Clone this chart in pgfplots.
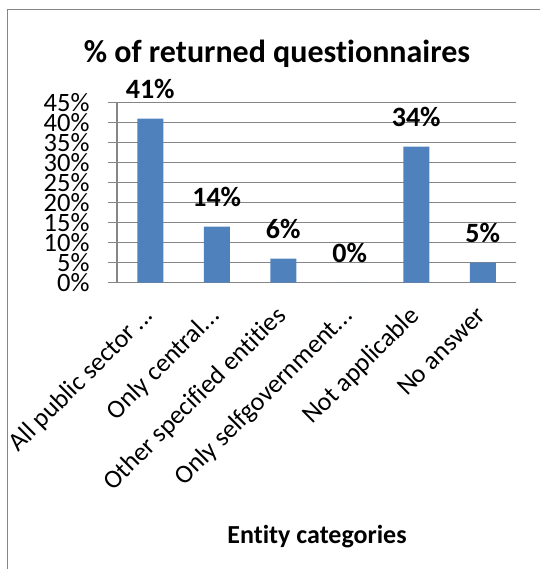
\documentclass[border=0pt]{standalone}
\usepackage{fontspec}
\setmainfont{Carlito}[Ligatures={NoCommon,NoRequired,NoContextual}]
\usepackage{pgfplots}
\pgfplotsset{compat=1.18}
\definecolor{barblue}{HTML}{4F81BD}
\definecolor{linegray}{HTML}{868686}
\begin{document}
\begin{tikzpicture}[x=1pt,y=1pt]
\useasboundingbox (0,0) rectangle (540,569);
% chart frame (left and top edge only are visible)
\draw[linegray, line width=1.5pt] (7.5,0) -- (7.5,559.5) -- (540,559.5);
\node[font=\bfseries\fontsize{32}{38}\selectfont, anchor=base] at (277,506) {\% of returned questionnaires};
\node[font=\bfseries\fontsize{26}{31}\selectfont, anchor=base] at (317,25) {Entity categories};
\begin{axis}[
    at={(117pt,286.3pt)}, anchor=south west,
    scale only axis, width=399pt, height=180pt,
    xmin=-0.5, xmax=5.5, ymin=0, ymax=45,
    axis x line*=bottom, axis y line*=left,
    axis line style={linegray, line width=1.2pt},
    ytick={0,5,...,45},
    yticklabel={\pgfmathprintnumber{\tick}\%},
    /pgf/number format/assume math mode=true,
    ymajorgrids, grid style={linegray, line width=1.2pt},
    y tick style={linegray, line width=1.2pt},
    tick align=outside, major tick length=9pt,
    yticklabel style={font=\fontsize{26.5}{26.5}\selectfont, xshift=-15pt},
    xtick={0,...,5},
    xticklabels={All public sector\,{.}{.}{.}, Only central{.}{.}{.}, Other specified entities, Only selfgovernment{.}{.}{.}, Not applicable, No answer},
    x tick style={draw=none},
    xticklabel style={font=\fontsize{26}{31}\selectfont, inner sep=0pt, text height=18pt, text depth=6pt,
        xshift=0pt, yshift=-21pt, rotate=45, anchor=east},
    extra x ticks={-0.5,0.5,...,5.5},
    extra x tick labels={},
    extra x tick style={x tick style={linegray, line width=1.2pt}, major tick length=8pt, grid=none},
    ybar, bar width=26pt,
    nodes near coords={\pgfmathprintnumber{\pgfplotspointmeta}\%},
    nodes near coords style={font=\bfseries\fontsize{28}{28}\selectfont, anchor=base, yshift=20pt, inner sep=0pt},
]
\addplot[fill=barblue, draw=none] coordinates {(0,41) (1,14) (2,6) (3,0) (4,34) (5,5)};
\end{axis}
\end{tikzpicture}
\end{document}
